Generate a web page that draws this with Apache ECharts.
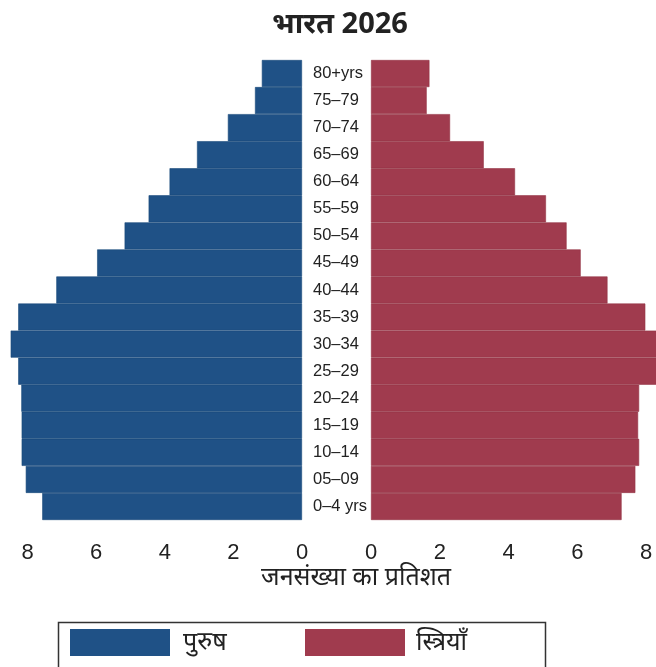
<!DOCTYPE html>
<html>
<head>
<meta charset="utf-8">
<script src="https://cdn.jsdelivr.net/npm/echarts@6/dist/echarts.min.js"></script>
<style>
  html, body { margin: 0; padding: 0; background: #fff; }
  #chart { width: 656px; height: 667px; }
</style>
</head>
<body>
<div id="chart"></div>
<script>
// Age groups, bottom to top
const ageGroups = ['0–4 yrs', '05–09', '10–14', '15–19', '20–24', '25–29', '30–34', '35–39', '40–44', '45–49', '50–54', '55–59', '60–64', '65–69', '70–74', '75–79', '80+yrs'];
// Percent of population, males (पुरुष)
const maleValues = [7.57, 8.05, 8.17, 8.17, 8.18, 8.27, 8.49, 8.27, 7.16, 5.97, 5.17, 4.47, 3.86, 3.06, 2.16, 1.37, 1.17];
// Percent of population, females (स्त्रियाँ)
const femaleValues = [7.29, 7.69, 7.80, 7.77, 7.80, 8.32, 8.35, 7.98, 6.88, 6.10, 5.69, 5.09, 4.19, 3.28, 2.30, 1.62, 1.70];
const xTicks = { min: 0, max: 8, interval: 2 };
const titleText = 'भारत 2026';
const axisTitle = 'जनसंख्या का प्रतिशत';
const maleName = 'पुरुष';
const femaleName = 'स्त्रियाँ';

const BLUE = '#1F5186';
const RED = '#A03B4E';
const devFont = '"Noto Sans", "Noto Sans Devanagari", "Lohit Devanagari", sans-serif';
const numFont = '"Liberation Sans", Arial, sans-serif';

const chart = echarts.init(document.getElementById('chart'), null, { renderer: 'canvas' });

const xAxisCommon = {
  type: 'value',
  min: xTicks.min, max: xTicks.max, interval: xTicks.interval,
  axisLine: { show: false }, axisTick: { show: false }, splitLine: { show: false },
  axisLabel: { fontFamily: numFont, fontSize: 22, color: '#222', margin: 22 }
};

chart.setOption({
  animation: false,
  backgroundColor: '#fff',
  grid: [
    { left: 27.5, top: 60, width: 274.5, height: 460 },
    { left: 371, top: 60, width: 275, height: 460 }
  ],
  xAxis: [
    Object.assign({ gridIndex: 0, inverse: true }, xAxisCommon),
    Object.assign({ gridIndex: 1 }, xAxisCommon)
  ],
  yAxis: [
    { type: 'category', gridIndex: 0, data: ageGroups, axisLine: { show: false }, axisTick: { show: false }, axisLabel: { show: false } },
    { type: 'category', gridIndex: 1, data: ageGroups, position: 'left', axisLine: { show: false }, axisTick: { show: false },
      axisLabel: { align: 'left', margin: 58, fontFamily: numFont, fontSize: 16.5, color: '#222' } }
  ],
  legend: [
    { data: [maleName], left: 70, top: 629, itemWidth: 100, itemHeight: 27, icon: 'rect', padding: 0,
      itemStyle: { borderWidth: 0 },
      textStyle: { fontFamily: devFont, fontSize: 25, color: '#222', padding: [0, 0, 4, 8] } },
    { data: [femaleName], left: 305, top: 629, itemWidth: 100, itemHeight: 27, icon: 'rect', padding: 0,
      itemStyle: { borderWidth: 0 },
      textStyle: { fontFamily: devFont, fontSize: 25, color: '#222', padding: [0, 0, 4, 6] } }
  ],
  graphic: [
    { type: 'text', x: 340, y: 25, style: { text: titleText, fontFamily: devFont, fontSize: 29, fontWeight: 'bold', fill: '#222', align: 'center', verticalAlign: 'middle' } },
    { type: 'text', x: 356, y: 578, style: { text: axisTitle, fontFamily: devFont, fontSize: 25, fill: '#222', align: 'center', verticalAlign: 'middle' } },
    { type: 'rect', shape: { x: 58.5, y: 622.5, width: 487, height: 80 }, style: { fill: 'none', stroke: '#333', lineWidth: 1.5 } }
  ],
  series: [
    { name: maleName, type: 'bar', xAxisIndex: 0, yAxisIndex: 0, data: maleValues, barCategoryGap: '0%', clip: false,
      itemStyle: { color: BLUE, borderColor: '#1A497B', borderWidth: 0.6 } },
    { name: femaleName, type: 'bar', xAxisIndex: 1, yAxisIndex: 1, data: femaleValues, barCategoryGap: '0%', clip: false,
      itemStyle: { color: RED, borderColor: '#933445', borderWidth: 0.6 } }
  ]
});
</script>
</body>
</html>
